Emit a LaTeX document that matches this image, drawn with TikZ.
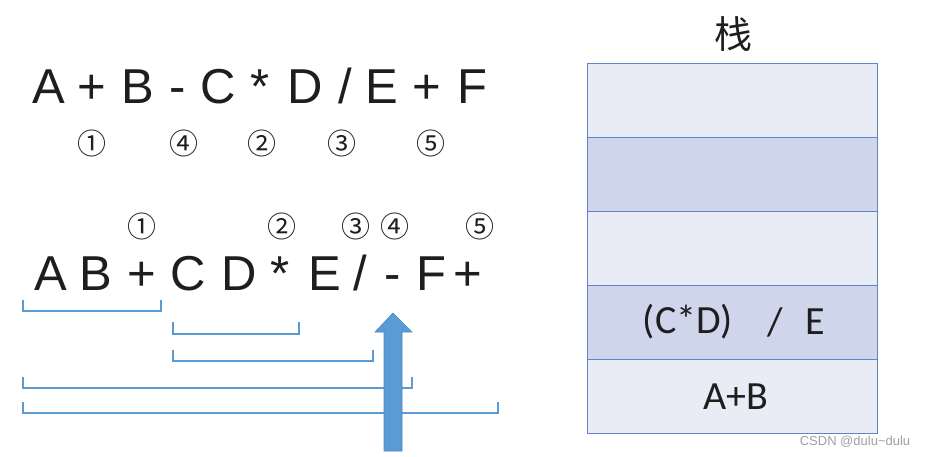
\documentclass[tikz,border=0pt]{standalone}
\usepackage{fontspec}
\setmainfont{Liberation Sans}
\newfontfamily\calib{Carlito}
\newfontfamily\cjk{Noto Sans CJK SC}
\definecolor{txt}{HTML}{1E1E1E}
\definecolor{brkc}{HTML}{5B9BD5}
\definecolor{arrc}{HTML}{5B9BD5}
\definecolor{arrb}{HTML}{4A86C0}
\definecolor{rowl}{HTML}{E9EBF5}
\definecolor{rowd}{HTML}{CFD5EA}
\definecolor{rowb}{HTML}{5F84C8}
\begin{document}
\begin{tikzpicture}[x=1pt,y=-1pt,
 ch/.style={font=\fontsize{49}{49}\selectfont, anchor=base, inner sep=0pt, text=txt},
 num/.style={font=\cjk\fontsize{29}{29}\selectfont, inner sep=0pt, text=txt},
 brk/.style={draw=brkc, line width=2pt},
 row/.style={draw=rowb, line width=1.2pt, minimum width=290pt, minimum height=74pt, inner sep=0pt, anchor=north west},
 stk/.style={font=\calib\fontsize{40}{40}\selectfont, text=txt, inner sep=0pt}
]
\useasboundingbox[fill=white] (0,0) rectangle (930,456);
% top row
\node[ch] (t1) at (49,103) {A};
\node[ch] (t2) at (92,103) {+};
\node[ch] (t3) at (138,103) {B};
\node[ch] (t4) at (178,103) {-};
\node[ch] (t5) at (218,103) {C};
\node[ch] (t6) at (260,103) {*};
\node[ch] (t7) at (305,103) {D};
\node[ch] (t8) at (345,103) {/};
\node[ch] (t9) at (382,103) {E};
\node[ch] (t10) at (427,103) {+};
\node[ch] (t11) at (472,103) {F};
\node[num] (n1) at (92,143) {①};
\node[num] (n4) at (184,143) {④};
\node[num] (n2) at (262,143) {②};
\node[num] (n3) at (342,143) {③};
\node[num] (n5) at (431,143) {⑤};
% second row
\node[ch] (b1) at (51,290) {A};
\node[ch] (b2) at (96,290) {B};
\node[ch] (b3) at (142,290) {+};
\node[ch] (b4) at (188,290) {C};
\node[ch] (b5) at (239,290) {D};
\node[ch] (b6) at (280,290) {*};
\node[ch] (b7) at (325,290) {E};
\node[ch] (b8) at (360,290) {/};
\node[ch] (b9) at (393,290) {-};
\node[ch] (b10) at (431,290) {F};
\node[ch] (b11) at (468,290) {+};
\node[num] (m1) at (142,226) {①};
\node[num] (m2) at (282,226) {②};
\node[num] (m3) at (356,226) {③};
\node[num] (m4) at (395,226) {④};
\node[num] (m5) at (480,226) {⑤};
% brackets
\draw[brk] (23,300) -- (23,311) -- (161,311) -- (161,300);
\draw[brk] (173,322) -- (173,334) -- (299,334) -- (299,322);
\draw[brk] (173,350) -- (173,361) -- (373,361) -- (373,350);
\draw[brk] (23,377) -- (23,388) -- (412,388) -- (412,377);
\draw[brk] (23,402) -- (23,413) -- (498,413) -- (498,402);
% arrow
\filldraw[fill=arrc, draw=arrb, line width=0.6pt] (384,451) -- (384,332) -- (375,332) -- (393,313) -- (412,332) -- (402,332) -- (402,451) -- cycle;
% stack
\node[font=\cjk\fontsize{38}{38}\selectfont, text=txt] (title) at (733,34) {栈};
\node[row, fill=rowl] (r1) at (587,63) {};
\node[row, fill=rowd] (r2) at (587,137) {};
\node[row, fill=rowl] (r3) at (587,211) {};
\node[row, fill=rowd] (r4) at (587,285) {};
\node[row, fill=rowl] (r5) at (587,359) {};
\node[stk] (s1) at (688,322) {(C*D)};
\node[stk] (s2) at (775,322) {/};
\node[stk] (s3) at (815,322) {E};
\node[stk] (s4) at (736,397) {A+B};
\node[font=\fontsize{13}{13}\selectfont, text=gray!75] (wm) at (855,442) {CSDN @dulu\textasciitilde dulu};
\end{tikzpicture}
\end{document}
